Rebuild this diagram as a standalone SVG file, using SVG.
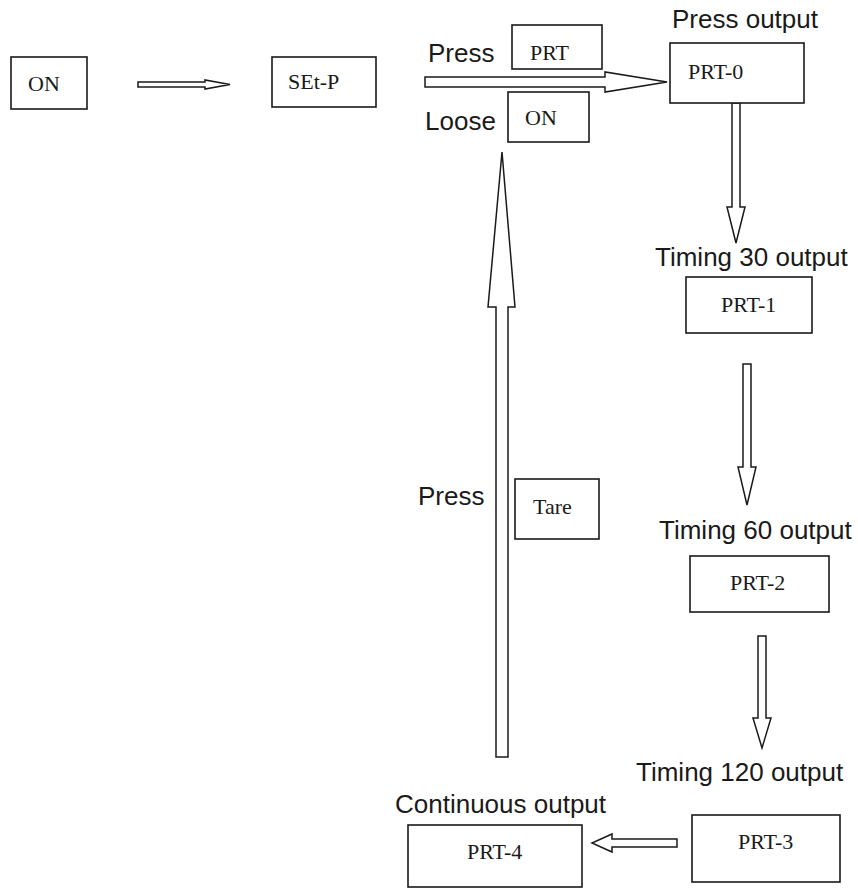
<svg xmlns="http://www.w3.org/2000/svg" width="858" height="888" viewBox="0 0 858 888">
<style>
.box{fill:#fff;stroke:#1a1a1a;stroke-width:1.6}
.arr{fill:#fff;stroke:#1a1a1a;stroke-width:1.5;stroke-linejoin:miter}
.t{font-family:"Liberation Serif","Times New Roman",serif;font-size:22px;fill:#1a1a1a}
.l{font-family:"Liberation Sans",Arial,sans-serif;font-size:26px;fill:#1a1a1a}
</style>
<rect width="858" height="888" fill="#fff"/>
<g id="connectors">
<polygon class="arr" points="138,82 205,82 205,80 230,84.5 205,89 205,87 138,87"/>
<polygon class="arr" points="425,77 605,77 605,72 667,82 605,92 605,87 425,87"/>
<polygon class="arr" points="732,103 740,103 740,207 745,207 736,243 727,207 732,207"/>
<polygon class="arr" points="743,364 751,364 751,467 756,467 747,505 738,467 743,467"/>
<polygon class="arr" points="758,636 766,636 766,718 771,718 762,748 753,718 758,718"/>
<polygon class="arr" points="677,839 677,847 612,847 612,852 592,843 612,834 612,839"/>
<polygon class="arr" points="496,757 508,757 508,307 515,307 502,152 488,307 496,307"/>
</g>
<g id="node-on"><rect class="box" x="11" y="57" width="76" height="52"/><text class="t" x="28" y="91">ON</text></g>
<g id="node-setp"><rect class="box" x="272" y="57" width="104" height="50"/><text class="t" x="288" y="89">SEt-P</text></g>
<g id="label-press-top"><text class="l" x="428" y="62">Press</text></g>
<g id="node-prt"><rect class="box" x="512" y="25" width="90" height="44"/><text class="t" x="530" y="60">PRT</text></g>
<g id="label-loose"><text class="l" x="425" y="130">Loose</text></g>
<g id="node-on2"><rect class="box" x="508" y="92" width="81" height="50"/><text class="t" x="525" y="125">ON</text></g>
<g id="label-press-output"><text class="l" x="672" y="28">Press output</text></g>
<g id="node-prt0"><rect class="box" x="670" y="43" width="134" height="60"/><text class="t" x="688" y="79">PRT-0</text></g>
<g id="label-timing30"><text class="l" x="655" y="266">Timing 30 output</text></g>
<g id="node-prt1"><rect class="box" x="686" y="277" width="126" height="56"/><text class="t" x="721" y="312">PRT-1</text></g>
<g id="label-press-mid"><text class="l" x="418" y="505">Press</text></g>
<g id="node-tare"><rect class="box" x="515" y="479" width="84" height="60"/><text class="t" x="533" y="514">Tare</text></g>
<g id="label-timing60"><text class="l" x="659" y="539">Timing 60 output</text></g>
<g id="node-prt2"><rect class="box" x="690" y="556" width="139" height="56"/><text class="t" x="730" y="590">PRT-2</text></g>
<g id="label-timing120"><text class="l" x="636" y="781">Timing 120 output</text></g>
<g id="node-prt3"><rect class="box" x="692" y="815" width="148" height="67"/><text class="t" x="738" y="849">PRT-3</text></g>
<g id="label-continuous"><text class="l" x="395" y="813">Continuous output</text></g>
<g id="node-prt4"><rect class="box" x="408" y="825" width="174" height="62"/><text class="t" x="467" y="859">PRT-4</text></g>
</svg>
